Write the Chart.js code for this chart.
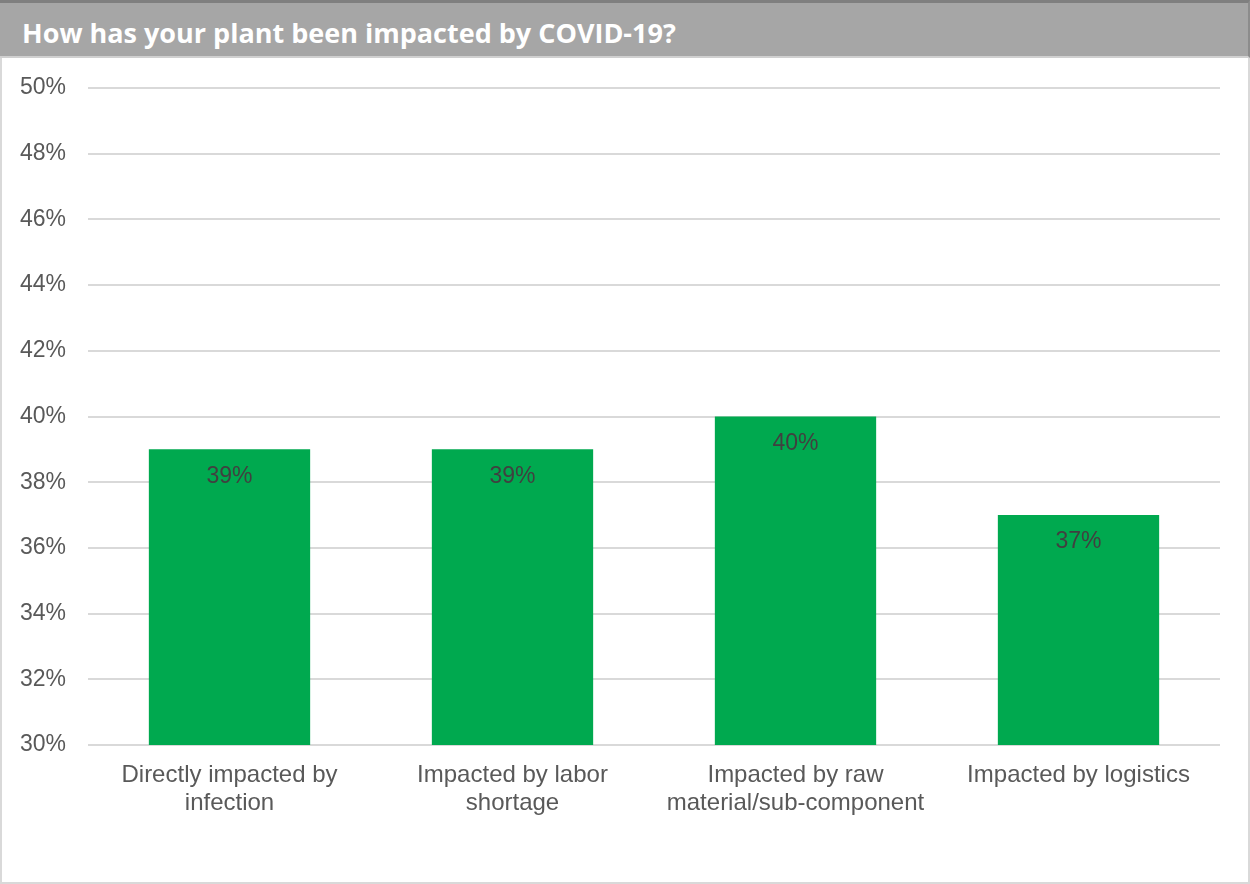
<!DOCTYPE html>
<html>
<head>
<meta charset="utf-8">
<script src="https://cdn.jsdelivr.net/npm/chart.js@4"></script>
<style>
  html, body { margin: 0; padding: 0; background: #fff; }
  #frame { position: relative; width: 1250px; height: 884px; box-sizing: border-box; border: 2px solid #d9d9d9; border-top: none; }
  #title { position: absolute; left: -2px; top: 0; width: 1250px; height: 58px; box-sizing: border-box;
    background: #a6a6a6; border-top: 3px solid #7f7f7f; border-right: 2px solid #8c8c8c; border-bottom: 2px solid #d0d0d0;
    color: #fff; font: bold 27px "Open Sans", "Noto Sans", sans-serif; padding: 11px 0 0 22px; line-height: 38px; }
  #wrap { position: absolute; left: -2px; top: 58px; width: 1250px; height: 826px; }
</style>
</head>
<body>
<div id="frame">
  <div id="title">How has your plant been impacted by COVID-19?</div>
  <div id="wrap"><canvas id="chart"></canvas></div>
</div>
<script>
const categories = [
  ['Directly impacted by', 'infection'],
  ['Impacted by labor', 'shortage'],
  ['Impacted by raw', 'material/sub-component'],
  ['Impacted by logistics']
];
const values = [39, 39, 40, 37];
const yMin = 30, yMax = 50, yStep = 2;

const barLabels = {
  id: 'barLabels',
  afterDatasetsDraw(chart) {
    const ctx = chart.ctx;
    const meta = chart.getDatasetMeta(0);
    ctx.save();
    ctx.font = '23px "Liberation Sans", Arial, sans-serif';
    ctx.fillStyle = '#404040';
    ctx.textAlign = 'center';
    ctx.textBaseline = 'middle';
    meta.data.forEach((bar, i) => {
      ctx.fillText(values[i] + '%', bar.x, bar.y + 27);
    });
    ctx.restore();
  }
};

new Chart(document.getElementById('chart'), {
  type: 'bar',
  data: {
    labels: categories,
    datasets: [{
      data: values,
      backgroundColor: '#00a94f',
      categoryPercentage: 0.57,
      barPercentage: 1
    }]
  },
  plugins: [barLabels],
  options: {
    responsive: true,
    maintainAspectRatio: false,
    animation: false,
    layout: { padding: { top: 30, right: 30, left: 0, bottom: 0 } },
    plugins: { legend: { display: false }, tooltip: { enabled: false } },
    scales: {
      x: {
        grid: { display: false },
        border: { display: false },
        ticks: {
          color: '#595959',
          font: { family: '"Liberation Sans", Arial, sans-serif', size: 24, lineHeight: 1.17 },
          padding: 8,
          maxRotation: 0,
          autoSkip: false
        },
        afterFit(scale) { scale.height = 139; scale.paddingTop = 0; scale.paddingBottom = 0; }
      },
      y: {
        min: yMin,
        max: yMax,
        grid: { color: '#d9d9d9', lineWidth: 2, drawTicks: false },
        border: { display: false },
        ticks: {
          stepSize: yStep,
          color: '#595959',
          font: { family: '"Liberation Sans", Arial, sans-serif', size: 23 },
          padding: 22,
          callback: v => v + '%'
        },
        afterFit(scale) { scale.width = 88; scale.paddingTop = 0; scale.paddingBottom = 0; }
      }
    }
  }
});
</script>
</body>
</html>
